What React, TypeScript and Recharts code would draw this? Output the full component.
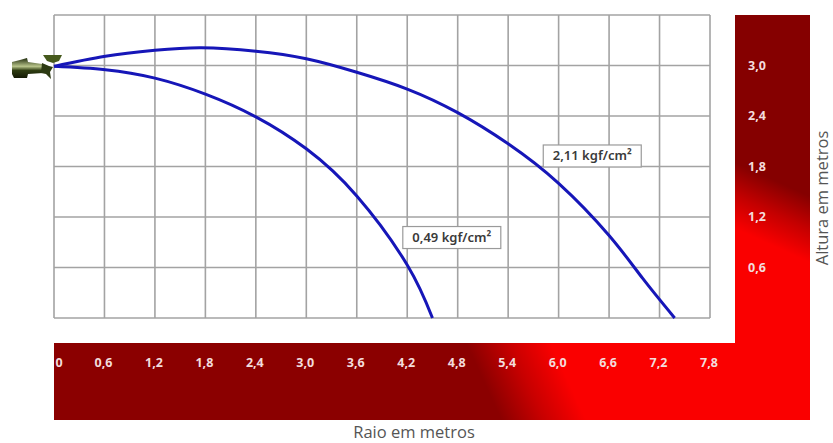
import React from 'react';
import { LineChart, Line, XAxis, YAxis, CartesianGrid, ReferenceDot } from 'recharts';

const W = 833;
const H = 443;

const xTicks = [0, 0.6, 1.2, 1.8, 2.4, 3.0, 3.6, 4.2, 4.8, 5.4, 6.0, 6.6, 7.2, 7.8];
const yTicks = [0, 0.6, 1.2, 1.8, 2.4, 3.0, 3.6];
const yLabelled = [0.6, 1.2, 1.8, 2.4, 3.0];

const highRadius = [0, 0.61, 1.2, 1.75, 2.4, 3.0, 3.6, 4.2, 4.8, 5.4, 6.0, 6.6, 7.0, 7.38];
const highHeight = [2.99, 3.11, 3.18, 3.21, 3.17, 3.08, 2.92, 2.72, 2.44, 2.07, 1.6, 0.98, 0.47, 0];

const lowRadius = [0, 0.61, 1.2, 1.8, 2.4, 3.0, 3.6, 4.2, 4.5];
const lowHeight = [2.99, 2.95, 2.85, 2.66, 2.39, 2.01, 1.45, 0.63, 0];

const highSeries = highRadius.map((r, i) => ({ r, h: highHeight[i] }));
const lowSeries = lowRadius.map((r, i) => ({ r, h: lowHeight[i] }));

const fmt = (v: number) => (v === 0 ? '0' : v.toFixed(1).replace('.', ','));

const tickFont = { fontFamily: '"Noto Sans", sans-serif', fontSize: 12.5, fontWeight: 700, fill: '#f3dcdc' };
const titleFont = { fontFamily: '"Open Sans", sans-serif', fontSize: 16.5, fill: '#555555' };

function XTick(props: any) {
  const { x, y, payload } = props;
  return (
    <text x={payload.value === 0 ? x + 5 : x - 1} y={y + 41} textAnchor="middle" {...tickFont}>
      {fmt(payload.value)}
    </text>
  );
}

function YTick(props: any) {
  const { x, y, payload } = props;
  if (!yLabelled.includes(payload.value)) return <g />;
  return (
    <text x={x + 39} y={y + 4} textAnchor="middle" {...tickFont}>
      {fmt(payload.value)}
    </text>
  );
}

function Callout(props: any) {
  const { cx, cy, text } = props;
  return (
    <g>
      <rect x={cx - 49} y={cy - 11} width={98} height={22} fill="#ffffff" stroke="#9a9a9a" strokeWidth={1.2} />
      <text
        x={cx}
        y={cy + 4.5}
        textAnchor="middle"
        fontFamily='"Noto Sans", sans-serif'
        fontSize={13}
        fontWeight={600}
        fill="#3a3a3a"
      >
        {text}
      </text>
    </g>
  );
}

function Panels() {
  return (
    <svg width={W} height={H} style={{ position: 'absolute', left: 0, top: 0 }}>
      <defs>
        <linearGradient id="gradBottom" gradientUnits="userSpaceOnUse" x1="490" y1="395" x2="560" y2="363">
          <stop offset="0" stopColor="#8b0000" />
          <stop offset="0.5" stopColor="#c80000" />
          <stop offset="1" stopColor="#fa0000" />
        </linearGradient>
        <linearGradient id="gradRight" gradientUnits="userSpaceOnUse" x1="785" y1="185" x2="760" y2="240">
          <stop offset="0" stopColor="#850000" />
          <stop offset="0.5" stopColor="#c40000" />
          <stop offset="1" stopColor="#fa0000" />
        </linearGradient>
      </defs>
      <rect x={54} y={343} width={756} height={77} fill="url(#gradBottom)" />
      <rect x={735} y={15} width={75} height={329} fill="url(#gradRight)" />
    </svg>
  );
}

function Nozzle() {
  return (
    <svg width={W} height={H} style={{ position: 'absolute', left: 0, top: 0, pointerEvents: 'none' }}>
      <defs>
        <linearGradient id="body" x1="0" y1="0" x2="0" y2="1">
          <stop offset="0" stopColor="#1f2a0c" />
          <stop offset="0.42" stopColor="#b8c48a" />
          <stop offset="0.62" stopColor="#2f3d12" />
          <stop offset="1" stopColor="#141a05" />
        </linearGradient>
      </defs>
      <path d="M12 62 L20 60 L27 58 L28 62 L42 64 L43 73 L28 74 L27 78 L14 78 L12 74 Z" fill="url(#body)" />
      <path d="M42 63 L49 66 L53 67 L50 72 L51 79 L46 74 L41 73 Z" fill="#2c3a12" />
      <path d="M43 55 L62 55 L59 61 L53 63 L47 61 Z" fill="#46591c" />
    </svg>
  );
}

export default function App() {
  return (
    <div style={{ position: 'absolute', left: 0, top: 0, width: W, height: H, overflow: 'hidden', background: '#ffffff' }}>
      <Panels />
      <div style={{ position: 'absolute', left: 0, top: 0 }}>
        <LineChart width={W} height={H} margin={{ top: 15, left: 54, right: 0, bottom: 0 }}>
          <CartesianGrid
            stroke="#a3a3a3"
            strokeWidth={1.6}
            verticalValues={xTicks}
            horizontalValues={yTicks}
          />
          <XAxis
            type="number"
            dataKey="r"
            domain={[0, 7.8]}
            ticks={xTicks}
            interval={0}
            height={125}
            axisLine={false}
            tickLine={false}
            tick={<XTick />}
            allowDuplicatedCategory={false}
            label={{
              content: () => (
                <text x={414} y={438} textAnchor="middle" {...titleFont}>
                  Raio em metros
                </text>
              ),
            }}
          />
          <YAxis
            type="number"
            orientation="right"
            domain={[0, 3.6]}
            ticks={yTicks}
            interval={0}
            width={123}
            axisLine={false}
            tickLine={false}
            tick={<YTick />}
            label={{
              content: () => (
                <text transform="translate(828 198) rotate(-90)" textAnchor="middle" {...titleFont}>
                  Altura em metros
                </text>
              ),
            }}
          />
          <Line data={highSeries} dataKey="h" type="natural" stroke="#1616b8" strokeWidth={3} dot={false} isAnimationActive={false} />
          <Line data={lowSeries} dataKey="h" type="natural" stroke="#1616b8" strokeWidth={3} dot={false} isAnimationActive={false} />
          <ReferenceDot x={6.4} y={1.925} shape={(p: any) => <Callout {...p} text="2,11 kgf/cm²" />} />
          <ReferenceDot x={4.73} y={0.956} shape={(p: any) => <Callout {...p} text="0,49 kgf/cm²" />} />
        </LineChart>
      </div>
      <Nozzle />
    </div>
  );
}
